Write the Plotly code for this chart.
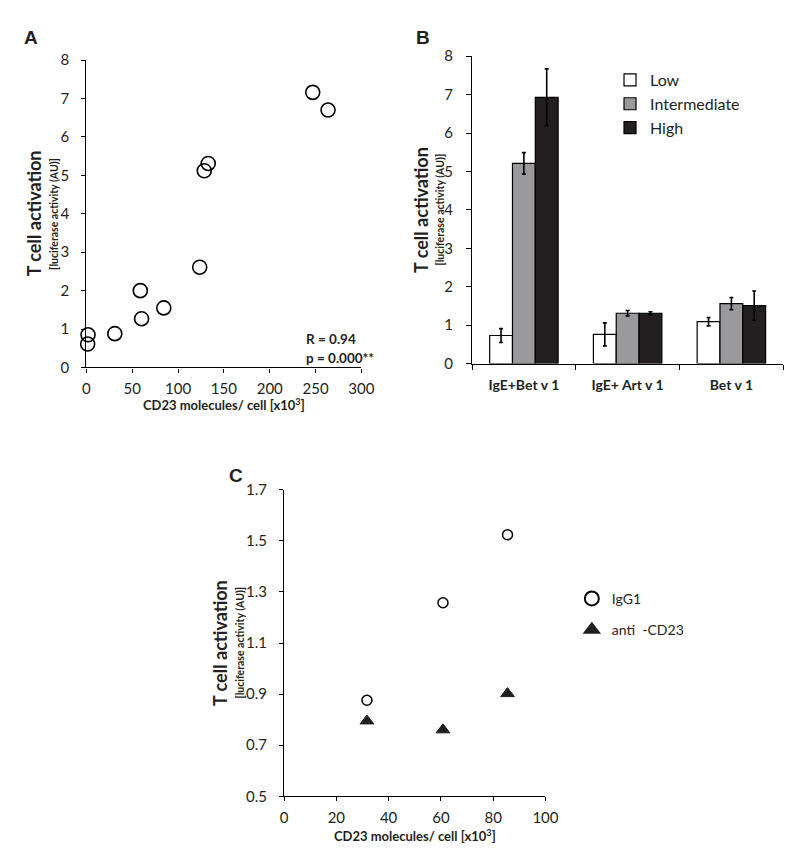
import plotly.graph_objects as go

# ---------------- data ----------------
# Panel A: CD23 molecules/cell (x10^3) vs T cell activation
a_cd23 = [1.4, 1.8, 31.0, 58.8, 60.2, 84.4, 123.6, 128.6, 132.9, 246.9, 263.6]
a_act = [0.61, 0.85, 0.88, 2.00, 1.27, 1.55, 2.61, 5.12, 5.31, 7.16, 6.70]

# Panel B: grouped bars
b_groups = ["IgE+Bet v 1", "IgE+ Art v 1", "Bet v 1"]
b_low = [0.73, 0.76, 1.09]
b_low_err = [0.18, 0.30, 0.11]
b_int = [5.21, 1.31, 1.56]
b_int_err = [0.28, 0.07, 0.16]
b_high = [6.93, 1.31, 1.51]
b_high_err = [0.74, 0.04, 0.38]

# Panel C
c_cd23 = [31.7, 60.8, 85.5]
c_igg1 = [0.876, 1.258, 1.524]
c_anti = [0.795, 0.760, 0.902]

W, H = 800, 855
FONT = "Lato, 'Open Sans', sans-serif"
TXT = "#231f20"


def px(x):
    return x / W


def py(y):
    return 1 - y / H


fig = go.Figure()

# ---------------- Panel A ----------------
fig.add_trace(go.Scatter(
    x=a_cd23, y=a_act, mode="markers", xaxis="x", yaxis="y",
    marker=dict(symbol="circle-open", size=14, color="black", line=dict(width=1.6, color="black")),
    showlegend=False, cliponaxis=False))

# ---------------- Panel B ----------------
bx = list(range(len(b_groups)))
for name, vals, errs, col in [("Low", b_low, b_low_err, "white"),
                              ("Intermediate", b_int, b_int_err, "#9a9a9c"),
                              ("High", b_high, b_high_err, "#231f20")]:
    fig.add_trace(go.Bar(
        x=bx, y=vals, name=name, xaxis="x2", yaxis="y2",
        marker=dict(color=col, line=dict(color="black", width=1.2)),
        error_y=dict(type="data", array=errs, visible=True, color="black", thickness=1.6, width=2),
        legend="legend"))

# ---------------- Panel C ----------------
fig.add_trace(go.Scatter(
    x=c_cd23, y=c_igg1, mode="markers", xaxis="x3", yaxis="y3",
    marker=dict(symbol="circle-open", size=10, color="black", line=dict(width=1.5, color="black")),
    showlegend=False, cliponaxis=False))
fig.add_trace(go.Scatter(
    x=c_cd23, y=c_anti, mode="markers", xaxis="x3", yaxis="y3",
    marker=dict(symbol="triangle-up", size=12, color="#231f20", line=dict(width=1, color="#231f20")),
    showlegend=False, cliponaxis=False))
# legend entries (larger symbols as in the reference legend)
fig.add_trace(go.Scatter(
    x=[None], y=[None], mode="markers", name="IgG1", xaxis="x3", yaxis="y3",
    marker=dict(symbol="circle-open", size=14, color="black", line=dict(width=2, color="black")),
    legend="legend2", legendgroup="g1"))
fig.add_trace(go.Scatter(
    x=[None], y=[None], mode="markers", name="anti\u00a0 -CD23", xaxis="x3", yaxis="y3",
    marker=dict(symbol="triangle-up", size=16, color="#231f20"),
    legend="legend2", legendgroup="g2"))

axis_common = dict(showgrid=False, zeroline=False, showline=True, linecolor="black", linewidth=1.3,
                   ticks="outside", tickcolor="black", tickwidth=1.2,
                   tickfont=dict(family=FONT, size=15, color=TXT))

fig.update_layout(
    width=W, height=H, autosize=False,
    margin=dict(l=0, r=0, t=0, b=0),
    paper_bgcolor="white", plot_bgcolor="white",
    font=dict(family=FONT, color=TXT),
    barmode="group", bargap=0.34, bargroupgap=0,
    xaxis=dict(axis_common, domain=[px(76), px(357)], range=[0, 300], tickvals=[0, 50, 100, 150, 200, 250, 300],
               anchor="y", ticklen=4, ticklabelstandoff=3),
    yaxis=dict(axis_common, domain=[py(357), py(43)], range=[0, 8], dtick=1, anchor="x",
               ticklen=4, ticklabelstandoff=9),
    xaxis2=dict(axis_common, domain=[px(470), px(788)], range=[-0.5, 2.5], tickvals=bx, ticktext=b_groups,
                anchor="y2", ticks="", ticklabelstandoff=8,
                tickfont=dict(family=FONT, size=14, color=TXT, weight="bold"),
                minor=dict(tickmode="array", tickvals=[-0.5, 0.5, 1.5, 2.5], ticks="outside", ticklen=5,
                           tickcolor="black", tickwidth=1.2)),
    yaxis2=dict(axis_common, domain=[py(353), py(39)], range=[0, 8], dtick=1, anchor="x2",
                ticklen=5, ticklabelstandoff=10),
    xaxis3=dict(axis_common, domain=[px(278), px(545)], range=[0, 100], dtick=20, anchor="y3",
                ticklen=4, ticklabelstandoff=4),
    yaxis3=dict(axis_common, domain=[py(795), py(482)], range=[0.5, 1.7],
                tickvals=[0.5, 0.7, 0.9, 1.1, 1.3, 1.5, 1.7], tickformat=".1f", anchor="x3",
                ticklen=4, ticklabelstandoff=9),
    legend=dict(x=px(611), y=py(46), xanchor="left", yanchor="top", bgcolor="rgba(0,0,0,0)",
                font=dict(family=FONT, size=16, color=TXT), itemwidth=30, tracegroupgap=0),
    legend2=dict(x=px(572), y=py(577), xanchor="left", yanchor="top", bgcolor="rgba(0,0,0,0)",
                 font=dict(family=FONT, size=14, color=TXT), itemwidth=30, tracegroupgap=10,
                 traceorder="grouped"),
)


def ann(text, x, y, size, angle=0, xanchor="center", family=FONT):
    fig.add_annotation(text=text, x=px(x), y=py(y), xref="paper", yref="paper", showarrow=False,
                       textangle=angle, xanchor=xanchor, yanchor="middle",
                       font=dict(family=family, size=size, color=TXT))


# panel letters
ann("<b>A</b>", 19.5, 20, 19, family="'Liberation Sans', Arial, sans-serif")
ann("<b>B</b>", 420, 20, 19, family="'Liberation Sans', Arial, sans-serif")
ann("<b>C</b>", 229, 467, 19, family="'Liberation Sans', Arial, sans-serif")

# y titles
for xm, xs, yc in [(22, 43, 200), (418, 437, 196), (212, 233, 638)]:
    ann("<b>T cell activation</b>", xm, yc, 18, angle=-90)
    ann("<b>[luciferase activity (AU)]</b>", xs, yc, 10.5, angle=-90)

# x titles
ann("<b>CD23 molecules/ cell [x10<sup>3</sup>]</b>", 216.5, 395, 13)
ann("<b>CD23 molecules/ cell [x10<sup>3</sup>]</b>", 411.5, 835, 13)

# statistics
ann("<b>R = 0.94</b>", 298, 328, 13.5, xanchor="left")
ann("<b>p = 0.000**</b>", 298, 347, 13.5, xanchor="left")

fig.write_html("out.html")
